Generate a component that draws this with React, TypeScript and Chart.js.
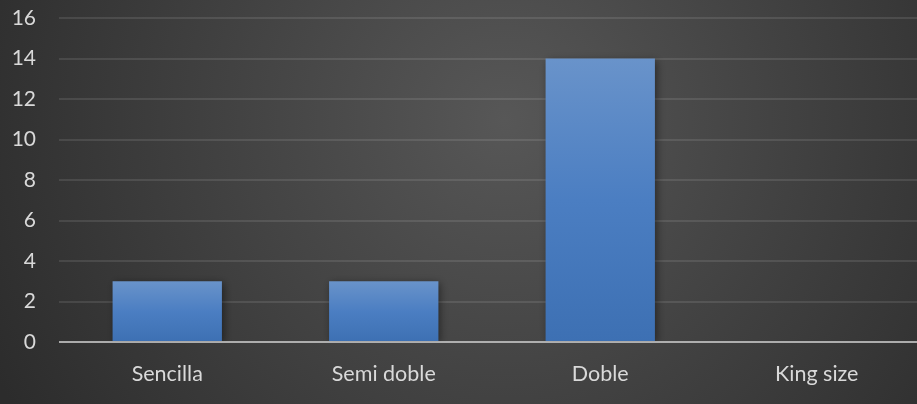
import React, { useEffect, useRef } from "react";
import { Chart, registerables } from "chart.js";

Chart.register(...registerables);

const categories = ["Sencilla", "Semi doble", "Doble", "King size"];
const values = [3, 3, 14, 0];
const yMin = 0;
const yMax = 16;
const yStep = 2;

const FONT = "Lato, 'Open Sans', sans-serif";

const bgPlugin = {
  id: "bgPlugin",
  beforeDraw(chart: any) {
    const { ctx, width, height } = chart;
    ctx.save();
    const g = ctx.createRadialGradient(505, 120, 0, 505, 120, 570);
    g.addColorStop(0, "#575757");
    g.addColorStop(1, "#2c2c2c");
    ctx.fillStyle = g;
    ctx.fillRect(0, 0, width, height);
    ctx.restore();
  },
  beforeDatasetsDraw(chart: any) {
    const ctx = chart.ctx;
    ctx.save();
    ctx.shadowColor = "rgba(0,0,0,0.45)";
    ctx.shadowBlur = 8;
    ctx.shadowOffsetX = 2;
    ctx.shadowOffsetY = 2;
  },
  afterDatasetsDraw(chart: any) {
    const ctx = chart.ctx;
    ctx.restore();
    const ys = chart.scales.y;
    const y0 = ys.getPixelForValue(0);
    ctx.save();
    ctx.strokeStyle = "rgba(200,200,200,0.78)";
    ctx.lineWidth = 2;
    ctx.beginPath();
    ctx.moveTo(chart.chartArea.left, y0);
    ctx.lineTo(chart.chartArea.right, y0);
    ctx.stroke();
    ctx.restore();
  },
};

export default function App() {
  const ref = useRef<HTMLCanvasElement>(null);
  useEffect(() => {
    if (!ref.current) return;
    const chart = new Chart(ref.current, {
      type: "bar",
      data: {
        labels: categories,
        datasets: [
          {
            data: values,
            backgroundColor: (c: any) => {
              const ch = c.chart;
              const ys = ch.scales?.y;
              if (!ys || c.raw == null) return "#4a7bbf";
              const top = ys.getPixelForValue(c.raw);
              const bot = ys.getPixelForValue(0);
              if (!(bot > top)) return "#4a7bbf";
              const g = ch.ctx.createLinearGradient(0, top, 0, bot);
              g.addColorStop(0, "#6993ca");
              g.addColorStop(0.5, "#4b7ec2");
              g.addColorStop(1, "#3d70b3");
              return g;
            },
            borderWidth: 0,
            barPercentage: 0.505,
            categoryPercentage: 1,
          },
        ],
      },
      options: {
        animation: false,
        responsive: false,
        devicePixelRatio: 1,
        layout: { padding: { left: 0, right: 0, top: 0, bottom: 0 } },
        plugins: { legend: { display: false }, tooltip: { enabled: false } },
        scales: {
          x: {
            grid: { display: false, drawTicks: false },
            border: { display: false },
            ticks: { color: "#d9d9d9", font: { family: FONT, size: 21.5 }, padding: 19 },
            afterFit: (s: any) => { s.height = 62; s.paddingLeft = 0; s.paddingRight = 0; },
          },
          y: {
            min: yMin,
            max: yMax,
            grid: { color: "rgba(255,255,255,0.1)", lineWidth: 2, drawTicks: false },
            border: { display: false },
            ticks: { stepSize: yStep, color: "#d9d9d9", font: { family: FONT, size: 21 }, padding: 23 },
            afterFit: (s: any) => { s.width = 59; s.paddingTop = 18; s.paddingBottom = 0; },
          },
        },
      },
      plugins: [bgPlugin],
    });
    return () => chart.destroy();
  }, []);
  return (
    <div style={{ position: "absolute", left: 0, top: 0, width: 917, height: 404, overflow: "hidden" }}>
      <canvas ref={ref} width={925} height={404} style={{ display: "block", width: 925, height: 404 }} />
    </div>
  );
}
